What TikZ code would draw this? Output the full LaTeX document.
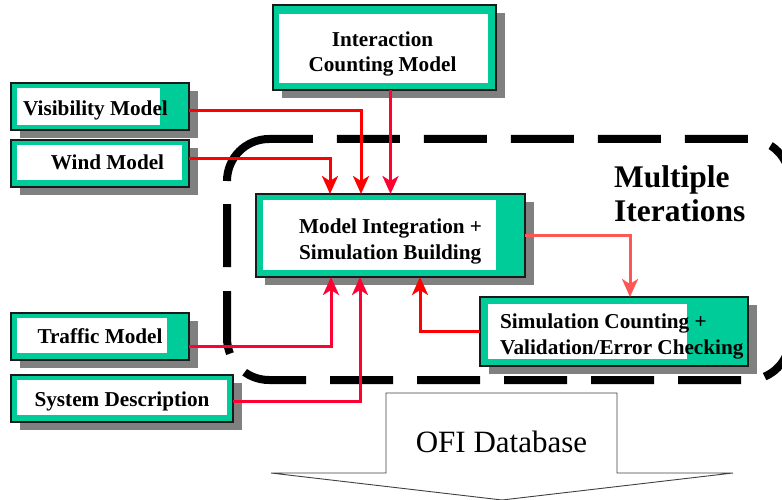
\documentclass[tikz,border=0pt]{standalone}
\usepackage{fontspec}
\setmainfont{Liberation Serif}
\usetikzlibrary{arrows.meta}
\definecolor{tealc}{HTML}{00CC99}
\definecolor{shadowc}{HTML}{808080}
\definecolor{framec}{HTML}{1A1A1A}
\definecolor{redA}{HTML}{FF0000}
\definecolor{redB}{HTML}{FF0033}
\definecolor{redC}{HTML}{FF5555}
\newcommand{\tealbox}[9]{%
  \fill[shadowc] (#2+9,#3+8) rectangle (#4+9,#5+8);
  \node[boxframe, anchor=north west, minimum width={#4-#2}, minimum height={#5-#3}] (#1) at (#2,#3) {};
  \fill[white] (#6,#7) rectangle (#8,#9);
}
\tikzset{
  boxframe/.style={draw=framec, line width=1.2pt, fill=tealc, inner sep=0pt, outer sep=0pt},
  boxtext/.style={font=\fontsize{21.2}{25.5}\selectfont\bfseries, inner sep=0pt, text=black},
  conn/.style={line width=3pt, -{Stealth[length=18pt,width=16pt,inset=5pt]}},
  loopline/.style={line width=8pt, rounded corners=42pt,
    dash pattern=on 63pt off 24pt on 63pt off 24pt on 63pt off 24pt on 63pt off 24pt on 63pt off 24pt on 63pt off 24pt on 63pt off 24pt on 63pt off 24pt on 63pt off 24pt on 63pt off 35pt on 63pt off 24pt on 63pt off 24pt on 63pt off 24pt on 63pt off 24pt on 63pt off 24pt on 63pt off 24pt on 110pt off 30pt},
  bigtext/.style={font=\fontsize{31.5}{35}\selectfont\bfseries, inner sep=0pt, align=left},
  outarrow/.style={line width=0.9pt, draw=black!75, fill=white}
}
\begin{document}
\begin{tikzpicture}[x=1pt, y=-1pt]
\useasboundingbox (0,0) rectangle (782,500);
% iteration loop
\draw[loopline] (227,204) -- (227,380) -- (790,380) -- (790,139) -- (227,139) -- (227,181);
% output arrow
\draw[outarrow] (271,473) -- (386,473) -- (386,393) -- (617,393) -- (617,473) -- (733,473) -- (502,500) -- cycle;
\node[font=\fontsize{31}{35}\selectfont, inner sep=0pt, anchor=base] (ofi) at (501.5,452) {OFI Database};
% boxes
\tealbox{vis}{11}{83}{189}{130}{17}{88}{160}{125}
\tealbox{wind}{11}{140}{189}{187}{17}{145}{182}{180}
\tealbox{icm}{273}{5}{496}{90}{279}{14}{488}{83}
\tealbox{mib}{256}{194}{525}{277}{263}{200}{496}{270}
\tealbox{scv}{480}{297}{748}{366}{488}{304}{687}{359}
\tealbox{traffic}{11}{313}{189}{360}{17}{318}{167}{353}
\tealbox{sysd}{11}{375}{233}{422}{17}{380}{227}{415}
% texts (multi-line nodes: base = last line's baseline)
\node[boxtext, anchor=base] (vist) at (95.5,116) {Visibility Model};
\node[boxtext, anchor=base] (windt) at (107.5,170) {Wind Model};
\node[boxtext, anchor=base, align=center] (icmt) at (382.5,72) {Interaction\\Counting Model};
\node[boxtext, anchor=base west, align=left] (mibt) at (299,259) {Model Integration +\\Simulation Building};
\node[boxtext, anchor=base west, align=left] (scvt) at (500,354) {Simulation Counting +\\Validation/Error Checking};
\node[boxtext, anchor=base] (traffict) at (100,343) {Traffic Model};
\node[boxtext, anchor=base] (sysdt) at (122,406) {System Description};
\node[bigtext, anchor=base west] (multi) at (614,222) {Multiple\\Iterations};
% connectors
\draw[conn, color=redA] ([yshift=-4.5pt]vis.east) -| ([xshift=-29.5pt]mib.north);
\draw[conn, color=redA] ([yshift=4.5pt]wind.east) -| ([xshift=-60.5pt]mib.north);
\draw[conn, color=redB] (icm.south -| mib.north) -- (mib.north);
\draw[conn, color=redB] ([yshift=-9.5pt]traffic.east) -| ([xshift=-59.5pt]mib.south);
\draw[conn, color=redB] ([yshift=-2.5pt]sysd.east) -| ([xshift=-30.5pt]mib.south);
\draw[conn, color=redC] (mib.east) -| ([xshift=16pt]scv.north);
\draw[conn, color=redA] (scv.west) -| ([xshift=29.5pt]mib.south);
\end{tikzpicture}
\end{document}
